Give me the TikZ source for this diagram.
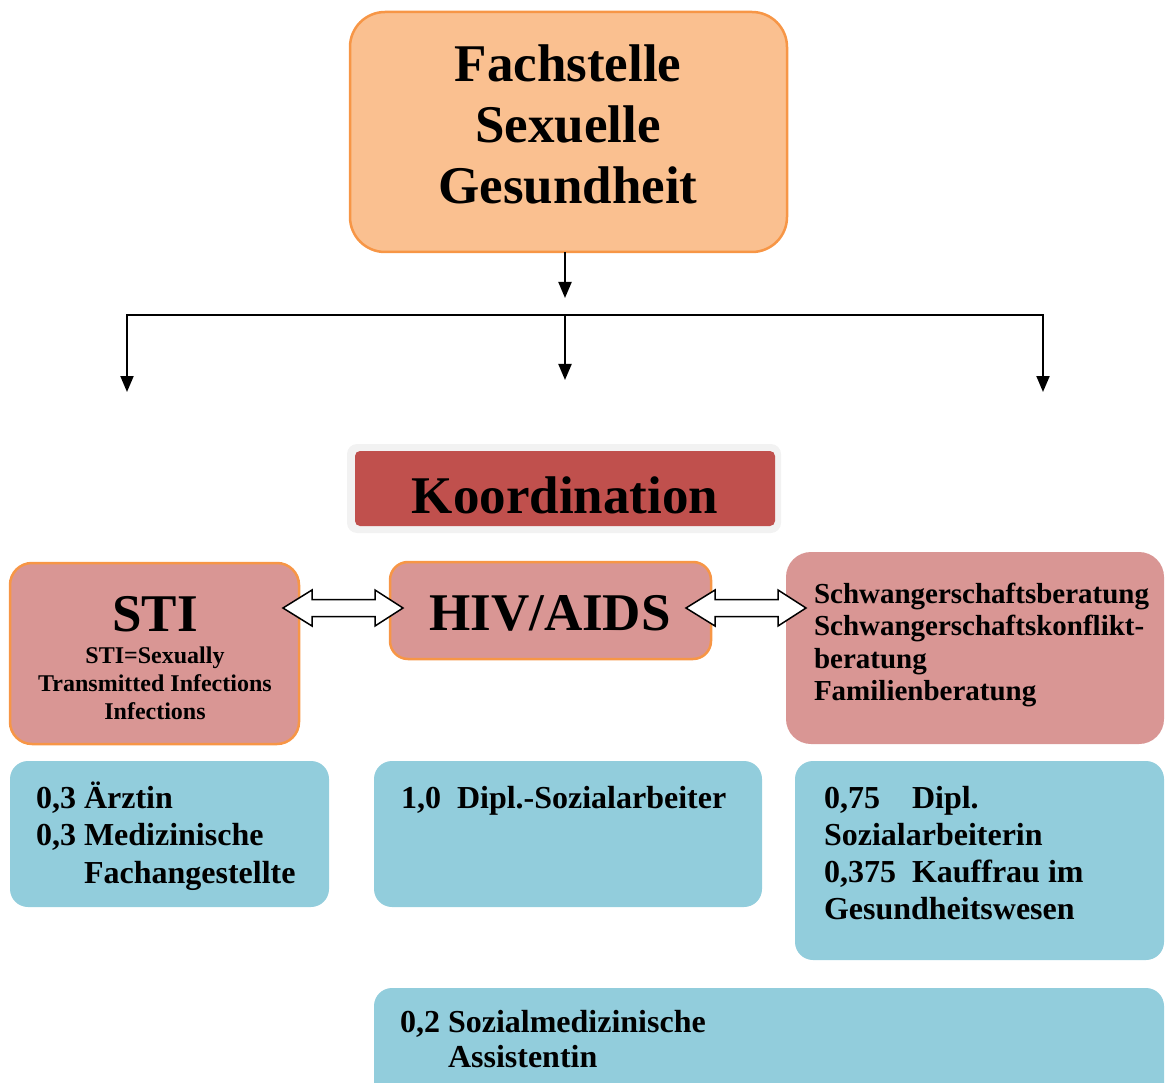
\documentclass[tikz,border=0pt]{standalone}
\usepackage{fontspec}
\setmainfont{Liberation Serif}
\usetikzlibrary{arrows.meta}
\definecolor{peach}{HTML}{FAC090}
\definecolor{orangeb}{HTML}{F79646}
\definecolor{pinkbox}{HTML}{D99694}
\definecolor{redbox}{HTML}{C0504D}
\definecolor{greyb}{HTML}{F2F2F2}
\definecolor{bluebox}{HTML}{92CDDC}
\begin{document}
\begin{tikzpicture}[x=1pt,y=-1pt,
  shapebox/.style={rectangle, inner sep=0pt, outer sep=0pt},
  orangebox/.style={shapebox, fill=pinkbox, draw=orangeb, line width=2.5pt},
  bluebx/.style={shapebox, fill=bluebox, rounded corners=18pt},
  txt/.style={inner sep=0pt, outer sep=0pt, font=\bfseries},
  conn/.style={line width=2pt, -{Triangle[length=16pt,width=13pt]}},
  hollow/.style={draw=black, fill=white, line width=1.5pt, line join=miter}]
\useasboundingbox (0,0) rectangle (1165,1083);

% top box
\node[shapebox, fill=peach, draw=orangeb, line width=2.5pt, rounded corners=35pt,
      minimum width=437pt, minimum height=240pt] (top) at (568.5,132) {};
\node[txt, anchor=base] (toptxt) at (568,82)
  {\fontsize{53}{61}\selectfont\begin{tabular}[t]{@{}c@{}}Fachstelle\\Sexuelle\\Gesundheit\end{tabular}};

% connectors
\coordinate (tarr) at (565,298);
\coordinate (j) at (565,315);
\coordinate (el) at (127,392);
\coordinate (em) at (565,380);
\coordinate (er) at (1043,392);
\draw[conn] (top.south -| tarr) -- (tarr);
\draw[conn] (j) -| (el);
\draw[conn] (j) -| (er);
\draw[conn] (j) -- (em);

% Koordination
\node[shapebox, fill=greyb, rounded corners=10pt, minimum width=434pt, minimum height=89pt] (kordo) at (564,488.5) {};
\node[shapebox, fill=redbox, rounded corners=5pt, minimum width=420pt, minimum height=75pt] (kord) at (565,488.5) {};
\node[txt, anchor=base] (kordtxt) at (565,513) {\fontsize{53}{61}\selectfont Koordination};

% STI
\node[orangebox, rounded corners=22pt, minimum width=289pt, minimum height=181pt] (sti) at (154.5,653.5) {};
\node[txt, anchor=base] (stitxt) at (155,631) {\fontsize{53}{61}\selectfont STI};
\node[txt, anchor=base] (stisub) at (155,663)
  {\fontsize{24}{28}\selectfont\begin{tabular}[t]{@{}c@{}}STI=Sexually\\Transmitted Infections\\Infections\end{tabular}};

% HIV/AIDS
\node[orangebox, rounded corners=18pt, minimum width=321pt, minimum height=97pt] (hiv) at (550.5,610.5) {};
\node[txt, anchor=base] (hivtxt) at (550,630) {\fontsize{53}{61}\selectfont HIV/AIDS};

% right pink
\node[shapebox, fill=pinkbox, rounded corners=25pt, minimum width=378pt, minimum height=192pt] (schw) at (975,648) {};
\node[txt, anchor=base west] (schwtxt) at (814,603)
  {\fontsize{29}{32.5}\selectfont\begin{tabular}[t]{@{}l@{}}Schwangerschaftsberatung\\Schwangerschaftskonflikt-\\beratung\\Familienberatung\end{tabular}};

% double arrows
\draw[hollow] (283,608) -- (312,590) -- (312,599.5) -- (375,599.5) -- (375,590) -- (403,608)
  -- (375,626) -- (375,616.5) -- (312,616.5) -- (312,626) -- cycle;
\draw[hollow] (686,608) -- (715,590) -- (715,599.5) -- (778,599.5) -- (778,590) -- (806,608)
  -- (778,626) -- (778,616.5) -- (715,616.5) -- (715,626) -- cycle;

% blue boxes
\node[bluebx, minimum width=319pt, minimum height=146pt] (b1) at (169.5,834) {};
\node[txt, anchor=base west] (b1txt) at (36,808)
  {\fontsize{32}{37.5}\selectfont\begin{tabular}[t]{@{}l@{}}0,3 Ärztin\\0,3 Medizinische\\\phantom{0,3}\ Fachangestellte\end{tabular}};

\node[bluebx, minimum width=388pt, minimum height=146pt] (b2) at (568,834) {};
\node[txt, anchor=base west] (b2txt) at (401,808)
  {\fontsize{32}{37.5}\selectfont 1,0\ \ Dipl.-Sozialarbeiter};

\node[bluebx, minimum width=369pt, minimum height=199pt] (b3) at (979.5,860.5) {};
\node[txt, anchor=base west] (b3txt) at (824,808)
  {\fontsize{32}{37}\selectfont\begin{tabular}[t]{@{}l@{}}\makebox[88pt][l]{0,75}Dipl.\\Sozialarbeiterin\\\makebox[88pt][l]{0,375}Kauffrau im\\Gesundheitswesen\end{tabular}};

\begin{scope}
\clip (0,0) rectangle (1165,1083);
\node[bluebx, minimum width=790pt, minimum height=130pt] (b4) at (769,1053) {};
\end{scope}
\node[txt, anchor=base west] (b4txt) at (400,1032)
  {\fontsize{32}{35}\selectfont\begin{tabular}[t]{@{}l@{}}0,2 Sozialmedizinische\\\phantom{0,2}\ Assistentin\end{tabular}};
\end{tikzpicture}
\end{document}
